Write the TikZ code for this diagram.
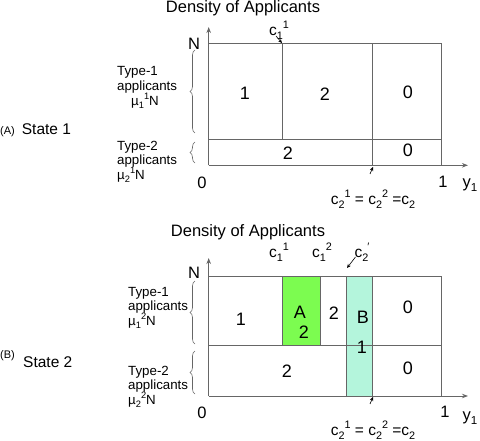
\documentclass[tikz,border=0pt]{standalone}
\usepackage{fontspec}
\setmainfont{Liberation Sans}
\usetikzlibrary{decorations.pathreplacing,arrows.meta}
\definecolor{linegray}{HTML}{666666}
\definecolor{agreen}{HTML}{7CFC50}
\definecolor{bteal}{HTML}{B4F5DC}
\newcommand{\mysub}[1]{\raisebox{-0.45ex}{\scalebox{0.7}{#1}}}
\newcommand{\mysup}[1]{\raisebox{0.9ex}{\scalebox{0.7}{#1}}}
\begin{document}
\begin{tikzpicture}[x=1pt,y=-1pt,
  gl/.style={draw=linegray,line width=1pt},
  ax/.style={draw=linegray,line width=1pt,-{Stealth[length=6pt,width=4.5pt]}},
  pointer/.style={draw=black,line width=0.6pt,-{Stealth[length=4pt,width=3.5pt]}},
  brc/.style={draw=linegray,line width=0.6pt,decorate,decoration={brace,amplitude=5pt}},
  ttl/.style={font=\fontsize{16.5}{19}\selectfont,inner sep=0pt},
  cell/.style={font=\fontsize{18}{20}\selectfont,inner sep=0pt},
  lab/.style={font=\fontsize{13.3}{15}\selectfont,anchor=west,inner sep=0pt},
  axl/.style={font=\fontsize{16.5}{19}\selectfont,inner sep=0pt},
  cl/.style={font=\fontsize{15.5}{18}\selectfont,inner sep=0pt}]
\useasboundingbox (0,0) rectangle (480,441);

% ---------- Panel A ----------
\node[ttl] (titleA) at (243,8.5) {Density of Applicants};
\coordinate (oA) at (208.7,165.3);
\coordinate (yA) at (208.7,27);
\coordinate (xA) at (468,165.3);
\draw[ax] (oA) -- (yA);
\draw[ax] (oA) -- (xA);
\draw[gl] (208.7,44) -- (441.7,44) -- (441.7,165.3);
\draw[gl] (208.7,139.3) -- (441.7,139.3);
\draw[gl] (282.3,44) -- (282.3,139.3);
\draw[gl] (372.7,44) -- (372.7,165.3);

\node[axl] (NA) at (194,44) {N};
\node[cl] (c11A) at (279,30) {c\mysub{1}\mysup{1}};
\coordinate (c11Atip) at (282,43);
\draw[pointer] (276,36) -- (c11Atip);

\node[cell] (a11) at (245,93) {1};
\node[cell] (a12) at (325,94) {2};
\node[cell] (a10) at (408,92) {0};
\node[cell] (a22) at (288,153) {2};
\node[cell] (a20) at (408,150) {0};

\draw[brc] (195,133) -- (195,50);
\draw[brc] (195,163) -- (195,142);
\node[lab] (tA1) at (117,72) {Type-1};
\node[lab] (tA2) at (117,87) {applicants};
\node[lab] (tA3) at (131,101) {µ\mysub{1}\mysup{1}N};
\node[lab] (tA4) at (117,147) {Type-2};
\node[lab] (tA5) at (117,161) {applicants};
\node[lab] (tA6) at (117,175) {µ\mysub{2}\mysup{1}N};

\node[anchor=west,inner sep=0pt,font=\fontsize{15.5}{18}\selectfont] (stA) at (0,130)
  {{\fontsize{11}{13}\selectfont (A)}\hspace{7pt}State 1};

\node[axl] (zA) at (202,183) {0};
\node[axl] (oneA) at (443,182) {1};
\node[axl] (y1A) at (470,185) {y\mysub{1}};
\node[cl] (c2A) at (373,199) {c\mysub{2}\mysup{1} = c\mysub{2}\mysup{2} =c\mysub{2}};
\coordinate (c2Atip) at (373,167);
\draw[pointer] (370,174) -- (c2Atip);

% ---------- Panel B ----------
\node[ttl] (titleB) at (248,232) {Density of Applicants};
\fill[agreen] (282.3,276.7) rectangle (320.3,345.7);
\fill[bteal] (346.7,276.7) rectangle (372.7,396);
\coordinate (oB) at (208.7,396);
\coordinate (yB) at (208.7,258);
\coordinate (xB) at (468,396);
\draw[ax] (oB) -- (yB);
\draw[ax] (oB) -- (xB);
\draw[gl] (208.7,276.7) -- (441.7,276.7) -- (441.7,396);
\draw[gl] (208.7,345.7) -- (441.7,345.7);
\draw[gl] (282.3,276.7) -- (282.3,345.7);
\draw[gl] (320.3,276.7) -- (320.3,345.7);
\draw[gl] (346.7,276.7) -- (346.7,396);
\draw[gl] (372.7,276.7) -- (372.7,396);

\node[axl] (NB) at (194,273) {N};
\node[cl] (c11B) at (279,252) {c\mysub{1}\mysup{1}};
\node[cl] (c12B) at (322,252) {c\mysub{1}\mysup{2}};
\node[cl] (c2pB) at (362,252) {c\mysub{2}\hspace{-1pt}\mysup{\char"2032}};
\coordinate (c2pBtip) at (347,268);
\draw[pointer] (355.5,257) -- (c2pBtip);

\node[cell] (b11) at (241,319) {1};
\node[cell] (bA) at (300,312) {A};
\node[cell] (bA2) at (304,332) {2};
\node[cell] (b12) at (334,313) {2};
\node[cell] (bB) at (363,317) {B};
\node[cell] (bB1) at (362,347) {1};
\node[cell] (b10) at (408,307) {0};
\node[cell] (b22) at (287,371) {2};
\node[cell] (b20) at (408,368) {0};

\draw[brc] (195,344) -- (195,281);
\draw[brc] (195,394) -- (195,351);
\node[lab] (tB1) at (128,293) {Type-1};
\node[lab] (tB2) at (128,307) {applicants};
\node[lab] (tB3) at (128,321) {µ\mysub{1}\mysup{2}N};
\node[lab] (tB4) at (128,372) {Type-2};
\node[lab] (tB5) at (128,386) {applicants};
\node[lab] (tB6) at (128,400) {µ\mysub{2}\mysup{2}N};

\node[anchor=west,inner sep=0pt,font=\fontsize{11}{13}\selectfont] (stB1) at (0,356) {(B)};
\node[anchor=west,inner sep=0pt,font=\fontsize{15.5}{18}\selectfont] (stB2) at (23,362) {State 2};

\node[axl] (zB) at (202,413) {0};
\node[axl] (oneB) at (445,412) {1};
\node[axl] (y1B) at (470,418) {y\mysub{1}};
\node[cl] (c2B) at (373,430) {c\mysub{2}\mysup{1} = c\mysub{2}\mysup{2} =c\mysub{2}};
\coordinate (c2Btip) at (373,397);
\draw[pointer] (370,404) -- (c2Btip);
\end{tikzpicture}
\end{document}
